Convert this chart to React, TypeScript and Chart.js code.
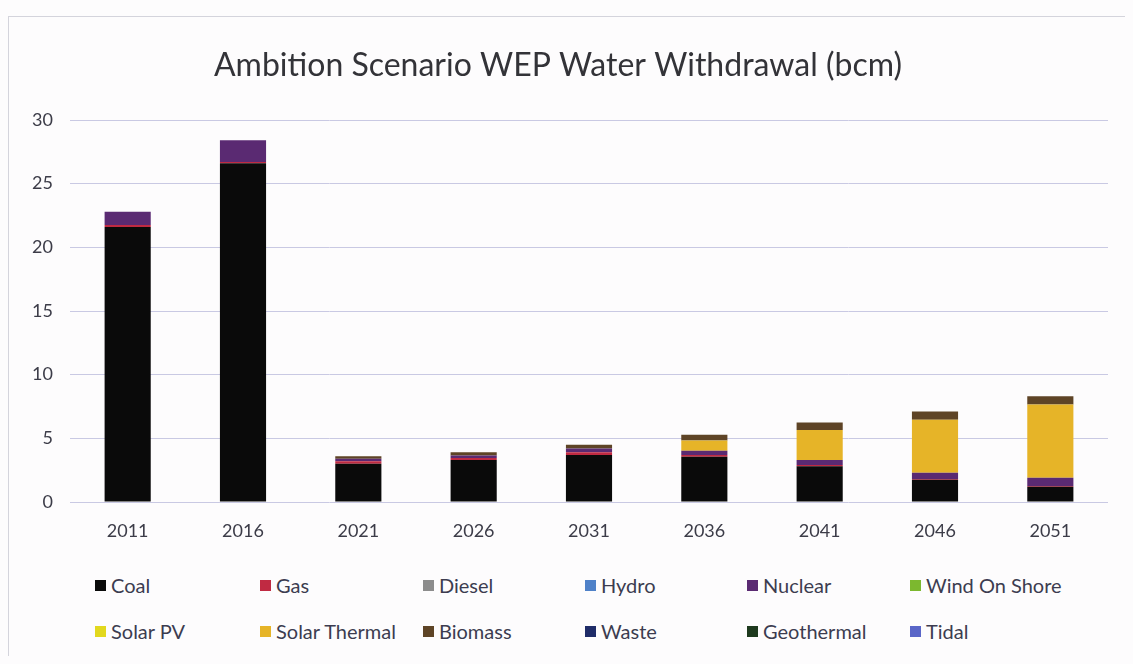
import React, { useEffect, useRef } from "react";
import { Chart, registerables } from "chart.js";

Chart.register(...registerables);

const years = ["2011", "2016", "2021", "2026", "2031", "2036", "2041", "2046", "2051"];

const coal = [21.6, 26.6, 3.0, 3.3, 3.7, 3.55, 2.8, 1.75, 1.2];
const gas = [0.15, 0.1, 0.2, 0.15, 0.2, 0.15, 0.1, 0.05, 0.05];
const diesel = [0, 0, 0, 0, 0, 0, 0, 0, 0];
const hydro = [0, 0, 0, 0, 0, 0, 0, 0, 0];
const nuclear = [1.05, 1.7, 0.2, 0.2, 0.3, 0.33, 0.4, 0.5, 0.65];
const windOnShore = [0, 0, 0, 0, 0, 0, 0, 0, 0];
const solarPV = [0, 0, 0, 0, 0, 0, 0, 0, 0];
const solarThermal = [0, 0, 0, 0, 0, 0.8, 2.35, 4.15, 5.75];
const biomass = [0, 0, 0.2, 0.25, 0.3, 0.45, 0.6, 0.65, 0.65];
const waste = [0, 0, 0, 0, 0, 0, 0, 0, 0];
const geothermal = [0, 0, 0, 0, 0, 0, 0, 0, 0];
const tidal = [0, 0, 0, 0, 0, 0, 0, 0, 0];

const seriesNames = [
  "Coal", "Gas", "Diesel", "Hydro", "Nuclear", "Wind On Shore",
  "Solar PV", "Solar Thermal", "Biomass", "Waste", "Geothermal", "Tidal",
];
const seriesValues = [
  coal, gas, diesel, hydro, nuclear, windOnShore,
  solarPV, solarThermal, biomass, waste, geothermal, tidal,
];
const seriesColors = [
  "#0a0a0a", "#c02a42", "#8c8c8c", "#4f81c8", "#5a2a72", "#7cb82f",
  "#e2d81e", "#e6b428", "#5e4426", "#1f2c68", "#1e3a1e", "#5a66c8",
];

const yTicks = [0, 5, 10, 15, 20, 25, 30];

const FONT = "Lato, 'Open Sans', sans-serif";

export default function App() {
  const ref = useRef<HTMLCanvasElement | null>(null);

  useEffect(() => {
    document.body.style.background = "#fdfcfd";
    const canvas = ref.current;
    if (!canvas) return;
    const chart = new Chart(canvas, {
      type: "bar",
      data: {
        labels: years,
        datasets: seriesNames.map((name, i) => ({
          label: name,
          data: seriesValues[i],
          backgroundColor: seriesColors[i],
          borderWidth: 0,
          barPercentage: 0.4,
          categoryPercentage: 1,
        })),
      },
      options: {
        animation: false,
        responsive: false,
        maintainAspectRatio: false,
        layout: { padding: { top: 0, left: 0, right: 17, bottom: 6 } },
        plugins: {
          legend: { display: false },
          tooltip: { enabled: false },
          title: {
            display: true,
            text: "Ambition Scenario WEP Water Withdrawal (bcm)",
            color: "#333338",
            font: { family: FONT, size: 32, weight: "normal" },
            padding: { top: 38, bottom: 35.6 },
          },
        },
        scales: {
          x: {
            stacked: true,
            grid: { display: false },
            border: { display: false },
            ticks: {
              color: "#3c3c48",
              font: { family: FONT, size: 18 },
              padding: 10,
            },
            afterFit: (s: any) => { s.height = 40; },
          },
          y: {
            stacked: true,
            min: 0,
            max: 30,
            afterBuildTicks: (s: any) => { s.ticks = yTicks.map((v) => ({ value: v })); },
            grid: { color: "#c9c9e3", drawTicks: false, lineWidth: 1 },
            border: { display: false },
            ticks: {
              color: "#3c3c48",
              font: { family: FONT, size: 18 },
              padding: 17,
            },
            afterFit: (s: any) => { s.width = 62; },
          },
        },
      },
    });
    return () => chart.destroy();
  }, []);

  const legendLeft = [87, 252, 415, 577, 739, 902];
  const legendTop = [566, 612];

  return (
    <div style={{ position: "relative", width: 1117, height: 648 }}>
      <div
        style={{
          position: "absolute",
          left: 0,
          top: 8,
          width: 1125,
          height: 660,
          borderTop: "1px solid #d4d4dc",
          borderLeft: "1px solid #d4d4dc",
          boxSizing: "border-box",
        }}
      />
      <canvas ref={ref} width={1117} height={540} style={{ position: "absolute", left: 0, top: 0 }} />
      {seriesNames.map((name, i) => (
        <div
          key={name}
          style={{
            position: "absolute",
            left: legendLeft[i % 6],
            top: legendTop[Math.floor(i / 6)],
            display: "flex",
            alignItems: "center",
            height: 22,
            fontFamily: FONT,
            fontSize: 20,
            color: "#3c3c50",
            whiteSpace: "nowrap",
          }}
        >
          <span
            style={{
              display: "inline-block",
              width: 11,
              height: 11,
              background: seriesColors[i],
              marginRight: 5,
            }}
          />
          {name}
        </div>
      ))}
    </div>
  );
}
